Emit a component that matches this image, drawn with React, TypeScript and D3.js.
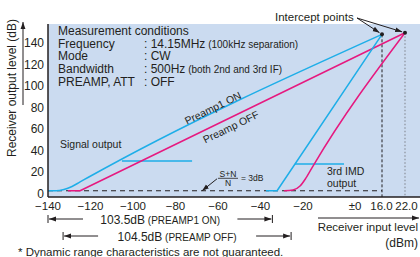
import * as d3 from "d3"

// axis ticks
const xTicks = [-140, -120, -100, -80, -60, -40, -20, 0, 16, 22]
const xTickLabels = ["−140", "−120", "−100", "−80", "−60", "−40", "−20", "±0", "16.0", "22.0"]
const yTicks = [0, 20, 40, 60, 80, 100, 120, 140]

// noise floor (S+N/N = 3dB)
const noiseFloor = 3

// intercept points [input dBm, output dB]
const interceptOn = [16, 148.4]
const interceptOff = [22, 149.9]

// signal output, preamp1 on / off
const signalOnIn = [-140, -136.2, -132.5, -128.7, -124.9, -121.2, 16]
const signalOnOut = [3, 3, 4.2, 7, 11.2, 15.3, 148.4]
const signalOffIn = [-130.6, -124.9, 22]
const signalOffOut = [3, 3, 149.9]

// 3rd IMD output, preamp1 on / off
const imdOnIn = [-37.4, -32.2, 16]
const imdOnOut = [3, 3, 148.4]
const imdOffIn = [-28.9, -24.7, -21.4, -18.8, -16, 22]
const imdOffOut = [3, 3.7, 7.4, 14.9, 26, 149.9]

// horizontal reference lines (preamp1 on)
const refLeftIn = [-105.2, -72.2]
const refLeftOut = 30.7
const refRightIn = [-23.8, -3.6]
const refRightOut = 27.9

// dynamic range brackets
const rangeOnIn = [-140, -34.4]
const rangeOffIn = [-132.9, -25.6]
const rangeValues = ["103.5dB", "104.5dB"]
const rangeNotes = ["(PREAMP1 ON)", "(PREAMP OFF)"]

// measurement conditions
const condLabels = ["Frequency", "Mode", "Bandwidth", "PREAMP, ATT"]
const condValues = [": 14.15MHz", ": CW", ": 500Hz", ": OFF"]
const condNotes = ["(100kHz separation)", "", "(both 2nd and 3rd IF)", ""]

const snArrowAt = -67.5

const FONT = "'Liberation Sans', Arial, Helvetica, sans-serif"
const CYAN = "#1eaee8"
const MAGENTA = "#e6197f"
const INK = "#231f20"

const zip = (a: number[], b: number[]): [number, number][] => a.map((v, i) => [v, b[i]])

export default function App() {
  const width = 420
  const height = 257
  const left = 48
  const top = 24
  const bottom = 197

  const x = d3.scaleLinear().domain([-140, -20, 0, 16, 22]).range([48, 303, 353, 382, 405])
  const y = d3.scaleLinear().domain([-2.8, 158]).range([bottom, top])

  const smooth = d3
    .line<[number, number]>()
    .x((d) => x(d[0]))
    .y((d) => y(d[1]))
    .curve(d3.curveMonotoneX)
  const straight = d3
    .line<[number, number]>()
    .x((d) => x(d[0]))
    .y((d) => y(d[1]))

  // slope angles of the signal lines (for rotated labels)
  const angOn =
    (Math.atan2(y(interceptOn[1]) - y(signalOnOut[5]), x(interceptOn[0]) - x(signalOnIn[5])) * 180) / Math.PI
  const angOff =
    (Math.atan2(y(interceptOff[1]) - y(signalOffOut[1]), x(interceptOff[0]) - x(signalOffIn[1])) * 180) / Math.PI

  const ipOn = [x(interceptOn[0]), y(interceptOn[1])]
  const ipOff = [x(interceptOff[0]), y(interceptOff[1])]
  const ipLabel = [357, 18]
  const shorten = (p: number[], by: number) => {
    const dx = p[0] - ipLabel[0]
    const dy = p[1] - ipLabel[1]
    const len = Math.hypot(dx, dy)
    return [p[0] - (dx / len) * by, p[1] - (dy / len) * by]
  }
  const ipOnEnd = shorten(ipOn, 3)
  const ipOffEnd = shorten(ipOff, 3)

  const rangeRows = [rangeOnIn, rangeOffIn]
  const rangeY = [219, 236]
  const nfY = y(noiseFloor)

  // small nudges so the crowded right-hand tick labels don't touch
  const tickNudge = (t: number) => (t === 0 ? 2 : t === 16 ? -0.5 : t === 22 ? 1.5 : 0)

  return (
    <svg
      width={width}
      height={height}
      style={{ position: "absolute", left: 0, top: 0, background: "#fff" }}
      fontFamily={FONT}
    >
      <defs>
        <marker id="ah" viewBox="0 0 10 10" refX="10" refY="5" markerWidth="7" markerHeight="7" orient="auto">
          <path d="M0,1.5L10,5L0,8.5z" fill={INK} />
        </marker>
        <clipPath id="plot">
          <rect x={left} y={top} width={width - left} height={bottom - top} />
        </clipPath>
      </defs>

      {/* plot background */}
      <rect x={left} y={top} width={width - left} height={bottom - top} fill="#cbdbf0" />

      {/* noise floor */}
      <line x1={x(-140)} x2={x(16)} y1={nfY} y2={nfY} stroke={INK} strokeWidth={1} strokeDasharray="5,4" />

      {/* intercept verticals */}
      <line x1={ipOn[0]} x2={ipOn[0]} y1={ipOn[1]} y2={bottom} stroke={INK} strokeWidth={1} strokeDasharray="3,2" />
      <line x1={ipOff[0]} x2={ipOff[0]} y1={ipOff[1]} y2={bottom} stroke="#8a8f99" strokeWidth={1.2} strokeDasharray="1.5,2" />

      <g clipPath="url(#plot)" fill="none" strokeLinejoin="round">
        <line x1={x(refLeftIn[0])} x2={x(refLeftIn[1])} y1={y(refLeftOut)} y2={y(refLeftOut)} stroke={CYAN} strokeWidth={1.5} />
        <line x1={x(refRightIn[0])} x2={x(refRightIn[1])} y1={y(refRightOut)} y2={y(refRightOut)} stroke={CYAN} strokeWidth={1.5} />
        <path d={smooth(zip(signalOnIn, signalOnOut)) ?? ""} stroke={CYAN} strokeWidth={1.5} />
        <path d={straight(zip(signalOffIn, signalOffOut)) ?? ""} stroke={MAGENTA} strokeWidth={1.5} />
        <path d={straight(zip(imdOnIn, imdOnOut)) ?? ""} stroke={CYAN} strokeWidth={1.5} />
        <path d={smooth(zip(imdOffIn, imdOffOut)) ?? ""} stroke={MAGENTA} strokeWidth={1.5} />
      </g>

      {/* intercept dots */}
      <circle cx={ipOn[0]} cy={ipOn[1]} r={2} fill={INK} />
      <circle cx={ipOff[0]} cy={ipOff[1]} r={2} fill={INK} />

      {/* axes frame */}
      <line x1={left} x2={left} y1={top} y2={bottom} stroke={INK} strokeWidth={1.5} />
      <line x1={left} x2={width} y1={bottom} y2={bottom} stroke={INK} strokeWidth={1.5} />

      {/* y ticks */}
      {yTicks.map((t) => (
        <text key={t} x={44} y={y(t)} dy="0.33em" textAnchor="end" fontSize={12} fill={INK}>
          {t}
        </text>
      ))}
      {/* x ticks */}
      {xTicks.map((t, i) => (
        <text key={t} x={x(t) + tickNudge(t)} y={210} textAnchor="middle" fontSize={11.5} fill={INK}>
          {xTickLabels[i]}
        </text>
      ))}

      {/* y axis label + arrow */}
      <text transform="translate(15.5,88) rotate(-90)" textAnchor="middle" fontSize={12} fill={INK}>
        Receiver output level (dB)
      </text>
      <line x1={23} x2={23} y1={105} y2={22} stroke={INK} strokeWidth={1} markerEnd="url(#ah)" />

      {/* x axis label + arrow */}
      <line x1={318} x2={419} y1={218} y2={218} stroke={INK} strokeWidth={1} markerEnd="url(#ah)" />
      <text x={418} y={231} textAnchor="end" fontSize={11.5} fill={INK}>
        Receiver input level
      </text>
      <text x={418} y={247} textAnchor="end" fontSize={12} fill={INK}>
        (dBm)
      </text>

      {/* measurement conditions */}
      <text x={58} y={34.5} fontSize={12} fill={INK}>
        Measurement conditions
      </text>
      {condLabels.map((c, i) => (
        <g key={c}>
          <text x={58} y={47.5 + i * 12.9} fontSize={12} fill={INK}>
            {c}
          </text>
          <text x={144} y={47.5 + i * 12.9} fontSize={12} fill={INK}>
            {condValues[i]}
            {condNotes[i] && <tspan fontSize={10}> {condNotes[i]}</tspan>}
          </text>
        </g>
      ))}

      {/* line labels */}
      <text x={60} y={148} fontSize={10.5} fill={INK}>
        Signal output
      </text>
      <text transform={`translate(213,108) rotate(${angOn})`} textAnchor="middle" dy="0.35em" fontSize={10.5} fill={INK}>
        Preamp1 ON
      </text>
      <text transform={`translate(231,127) rotate(${angOff})`} textAnchor="middle" dy="0.35em" fontSize={10.5} fill={INK}>
        Preamp OFF
      </text>
      <text x={327} y={174.5} fontSize={10.5} fill={INK}>
        3rd IMD
      </text>
      <text x={327} y={187} fontSize={10.5} fill={INK}>
        output
      </text>

      {/* S+N/N annotation */}
      <line x1={x(snArrowAt) + 15} y1={nfY - 12} x2={x(snArrowAt)} y2={nfY} stroke={INK} strokeWidth={1} markerEnd="url(#ah)" />
      <text x={228} y={176.5} textAnchor="middle" fontSize={8.5} fill={INK}>
        S+N
      </text>
      <line x1={218} x2={238} y1={178.3} y2={178.3} stroke={INK} strokeWidth={0.8} />
      <text x={228} y={185.5} textAnchor="middle" fontSize={8.5} fill={INK}>
        N
      </text>
      <text x={241} y={181} fontSize={8.5} fill={INK}>
        = 3dB
      </text>

      {/* intercept points label */}
      <text x={275} y={21} fontSize={11.5} fill={INK}>
        Intercept points
      </text>
      <line x1={ipLabel[0]} y1={ipLabel[1]} x2={ipOnEnd[0]} y2={ipOnEnd[1]} stroke={INK} strokeWidth={1} markerEnd="url(#ah)" />
      <line x1={ipLabel[0]} y1={ipLabel[1]} x2={ipOffEnd[0]} y2={ipOffEnd[1]} stroke={INK} strokeWidth={1} markerEnd="url(#ah)" />

      {/* dynamic range brackets */}
      {rangeRows.map((r, i) => (
        <g key={i} stroke={INK} strokeWidth={1}>
          <line x1={x(r[0])} x2={x(r[0])} y1={rangeY[i] - 4} y2={rangeY[i] + 4} />
          <line x1={x(r[0]) + 35} x2={x(r[0]) + 1} y1={rangeY[i]} y2={rangeY[i]} markerEnd="url(#ah)" />
          <line x1={x(r[1])} x2={x(r[1])} y1={rangeY[i] - 4} y2={rangeY[i] + 4} />
          <line x1={x(r[1]) - 35} x2={x(r[1]) - 1} y1={rangeY[i]} y2={rangeY[i]} markerEnd="url(#ah)" />
        </g>
      ))}
      {rangeRows.map((r, i) => (
        <text key={i} x={(x(r[0]) + x(r[1])) / 2} y={rangeY[i] + 4.5} textAnchor="middle" fontSize={12} fill={INK}>
          {rangeValues[i]}
          <tspan fontSize={10}> {rangeNotes[i]}</tspan>
        </text>
      ))}

      {/* footnote */}
      <text x={18} y={256} fontSize={11.5} fill={INK}>
        * Dynamic range characteristics are not guaranteed.
      </text>
    </svg>
  )
}
